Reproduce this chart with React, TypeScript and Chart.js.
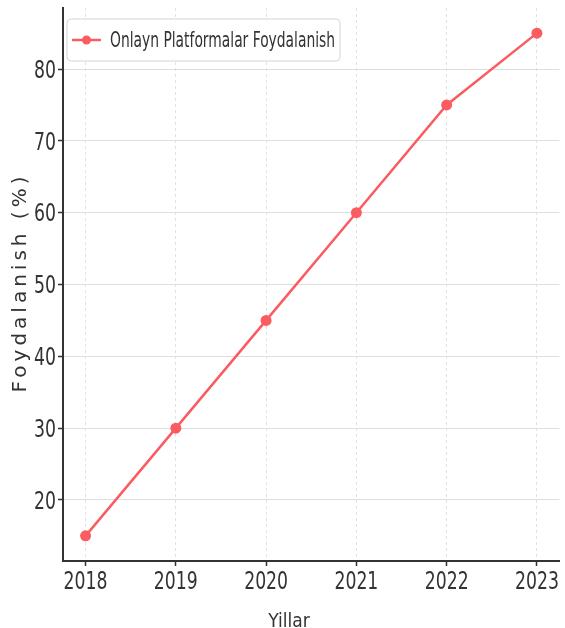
import React, { useEffect, useRef } from "react";
import { Chart, registerables } from "chart.js";

Chart.register(...registerables);

const years = [2018, 2019, 2020, 2021, 2022, 2023];
const usage = [15, 30, 45, 60, 75, 85];
const yTicks = [20, 30, 40, 50, 60, 70, 80];
const seriesLabel = "Onlayn Platformalar Foydalanish";
const xTitle = "Yillar";
const yTitle = "Foydalanish (%)";

const NARROW = "'DejaVu Sans Condensed', 'Liberation Sans Narrow', sans-serif";
const LINE_COLOR = "rgb(250, 92, 98)";
const TEXT_COLOR = "#333333";
const TICK_SQUEEZE = 0.8;
const LEGEND_SQUEEZE = 0.7;

function drawNarrow(
  ctx: CanvasRenderingContext2D,
  text: string,
  x: number,
  y: number,
  align: CanvasTextAlign,
  size: number,
  sx: number
) {
  ctx.save();
  ctx.translate(x, y);
  ctx.scale(sx, 1);
  ctx.font = `${size}px ${NARROW}`;
  ctx.fillStyle = TEXT_COLOR;
  ctx.textAlign = align;
  ctx.textBaseline = "alphabetic";
  ctx.fillText(text, 0, 0);
  ctx.restore();
}

const textPlugin = {
  id: "textPlugin",
  afterDraw(chart: any) {
    const { ctx, chartArea, scales } = chart;
    const ys = scales.y;
    ys.ticks.forEach((t: any) => {
      const py = ys.getPixelForValue(t.value);
      drawNarrow(ctx, String(t.value), chartArea.left - 7, py + 8.7, "right", 24, TICK_SQUEEZE);
    });
    const xs = scales.x;
    xs.ticks.forEach((t: any) => {
      const px = xs.getPixelForValue(t.value);
      drawNarrow(ctx, String(t.value), px, chartArea.bottom + 28, "center", 24, TICK_SQUEEZE);
    });
    drawNarrow(ctx, xTitle, 289, 627, "center", 20, 0.95);
    ctx.save();
    ctx.translate(21, (chartArea.top + chartArea.bottom) / 2);
    ctx.rotate(-Math.PI / 2);
    ctx.font = "20px 'DejaVu Sans', sans-serif";
    try {
      (ctx as any).letterSpacing = "4px";
    } catch (e) {}
    ctx.fillStyle = TEXT_COLOR;
    ctx.textAlign = "center";
    ctx.textBaseline = "middle";
    ctx.fillText(yTitle, 2, 0);
    ctx.restore();
  },
};

const legendBoxPlugin = {
  id: "legendBoxPlugin",
  afterDatasetsDraw(chart: any) {
    const { ctx } = chart;
    const ds = chart.data.datasets[0];
    const color = ds.borderColor;
    ctx.save();
    const fontSize = 22;
    ctx.font = `${fontSize}px ${NARROW}`;
    const textX = 110;
    const tw = ctx.measureText(ds.label).width * LEGEND_SQUEEZE;
    const bx = 67;
    const by = 19;
    const bw = textX + tw + 5 - bx;
    const bh = 42;
    const r = 4;
    ctx.beginPath();
    ctx.moveTo(bx + r, by);
    ctx.lineTo(bx + bw - r, by);
    ctx.quadraticCurveTo(bx + bw, by, bx + bw, by + r);
    ctx.lineTo(bx + bw, by + bh - r);
    ctx.quadraticCurveTo(bx + bw, by + bh, bx + bw - r, by + bh);
    ctx.lineTo(bx + r, by + bh);
    ctx.quadraticCurveTo(bx, by + bh, bx, by + bh - r);
    ctx.lineTo(bx, by + r);
    ctx.quadraticCurveTo(bx, by, bx + r, by);
    ctx.closePath();
    ctx.fillStyle = "rgba(255,255,255,0.85)";
    ctx.fill();
    ctx.strokeStyle = "#d4d4d4";
    ctx.lineWidth = 1;
    ctx.stroke();

    const ly = 40;
    ctx.strokeStyle = color;
    ctx.lineWidth = 2.5;
    ctx.beginPath();
    ctx.moveTo(72, ly);
    ctx.lineTo(101, ly);
    ctx.stroke();
    ctx.fillStyle = color;
    ctx.beginPath();
    ctx.arc(86.5, ly, 4.5, 0, Math.PI * 2);
    ctx.fill();
    ctx.restore();

    drawNarrow(ctx, ds.label, textX, 47, "left", fontSize, LEGEND_SQUEEZE);
  },
};

export default function App() {
  const canvasRef = useRef<HTMLCanvasElement | null>(null);

  useEffect(() => {
    if (!canvasRef.current) return;
    const chart = new Chart(canvasRef.current, {
      type: "line",
      data: {
        datasets: [
          {
            label: seriesLabel,
            data: years.map((y, i) => ({ x: y, y: usage[i] })),
            borderColor: LINE_COLOR,
            backgroundColor: LINE_COLOR,
            borderWidth: 2.5,
            pointRadius: 5.5,
            pointHoverRadius: 5.5,
            pointBackgroundColor: LINE_COLOR,
            pointBorderWidth: 0,
            tension: 0,
          },
        ],
      },
      options: {
        animation: false,
        responsive: true,
        maintainAspectRatio: false,
        layout: { padding: { top: 8, right: 1, left: 0, bottom: 0 } },
        plugins: {
          legend: { display: false },
          tooltip: { enabled: false },
          title: { display: false },
        },
        scales: {
          x: {
            type: "linear",
            min: 2017.75,
            max: 2023.25,
            afterBuildTicks: (s: any) => {
              s.ticks = years.map((v) => ({ value: v }));
            },
            afterFit: (s: any) => {
              s.height = 67;
              s.paddingLeft = 0;
              s.paddingRight = 0;
            },
            ticks: { display: false },
            grid: {
              color: "#e2e2e2",
              lineWidth: 1,
              tickLength: 5,
              tickColor: TEXT_COLOR,
              tickWidth: 1.5,
              tickBorderDash: [],
            },
            border: { display: true, color: TEXT_COLOR, width: 2, dash: [3, 3] },
            title: { display: false },
          },
          y: {
            type: "linear",
            min: 11.5,
            max: 88.5,
            afterBuildTicks: (s: any) => {
              s.ticks = yTicks.map((v) => ({ value: v }));
            },
            afterFit: (s: any) => {
              s.width = 63;
              s.paddingTop = 0;
              s.paddingBottom = 0;
            },
            ticks: { display: false },
            grid: {
              color: "#dedede",
              lineWidth: 1,
              tickLength: 5,
              tickColor: TEXT_COLOR,
              tickWidth: 1.5,
            },
            border: { display: true, color: TEXT_COLOR, width: 2 },
          },
        },
      },
      plugins: [textPlugin, legendBoxPlugin],
    } as any);
    return () => chart.destroy();
  }, []);

  return (
    <div
      style={{
        position: "fixed",
        left: 0,
        top: 0,
        width: 565,
        height: 628,
        background: "#ffffff",
      }}
    >
      <canvas ref={canvasRef} />
    </div>
  );
}
